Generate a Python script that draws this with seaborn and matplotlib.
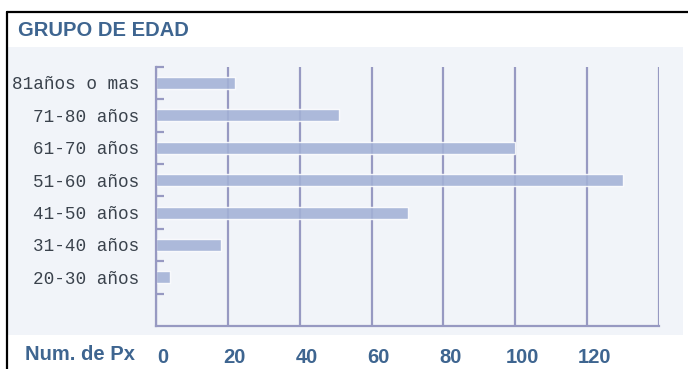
import matplotlib
matplotlib.use("Agg")
import matplotlib.pyplot as plt
import matplotlib.transforms as mtransforms
from matplotlib.patches import Rectangle
from matplotlib.lines import Line2D
from matplotlib.ticker import FixedLocator
import pandas as pd
import seaborn as sns

# Data
age_groups = ["81años o mas", "71-80 años", "61-70 años", "51-60 años",
              "41-50 años", "31-40 años", "20-30 años"]
patients = [22, 51, 100, 130, 70, 18, 4]
x_ticks = [0, 20, 40, 60, 80, 100, 120, 140]
x_tick_labels = ["0", "20", "40", "60", "80", "100", "120", ""]

title_text = "GRUPO DE EDAD"
x_axis_text = "Num. de Px"

# Styling
PANEL = "#f1f4f9"
BAR = "#a3b1d6"
GRID = "#9799c2"
TITLE_BLUE = "#3e6590"
LABEL_GREY = "#3a424c"

sns.set_theme(style="white")
plt.rcParams["font.family"] = ["Liberation Sans", "DejaVu Sans"]

df = pd.DataFrame({"grupo": age_groups, "px": patients})

W, H = 688, 369
fig = plt.figure(figsize=(W / 100, H / 100), dpi=100)
fig.patch.set_facecolor("white")

# light panel behind the chart
fig.add_artist(Rectangle((7 / W, 1 - 335 / H), (683 - 7) / W, (335 - 47) / H,
                         transform=fig.transFigure, facecolor=PANEL,
                         edgecolor="none", zorder=0))
# frame lines on top and left
fig.add_artist(Line2D([7 / W, 1], [1 - 11.5 / H, 1 - 11.5 / H],
                      transform=fig.transFigure, color="black", lw=1.6))
fig.add_artist(Line2D([7 / W, 7 / W], [0, 1 - 11.5 / H],
                      transform=fig.transFigure, color="black", lw=1.6))

left, right = 156 / W, 659 / W
top, bottom = 1 - 66.7 / H, 1 - 326 / H
ax = fig.add_axes([left, bottom, right - left, top - bottom])
ax.set_facecolor("none")

sns.barplot(data=df, x="px", y="grupo", orient="h", color=BAR,
            width=0.37, saturation=1, alpha=0.88, ax=ax, zorder=2)

ax.set_xlim(0, 140)
ax.set_ylim(len(age_groups) + 0.5, -0.5)
ax.set_xlabel("")
ax.set_ylabel("")

# vertical grid lines
ax.set_xticks(x_ticks)
ax.set_xticklabels(x_tick_labels)
ax.grid(axis="x", color=GRID, lw=1.6, zorder=1)
ax.grid(axis="y", visible=False)
ax.set_axisbelow(True)

for side in ["top", "right"]:
    ax.spines[side].set_visible(False)
for side in ["left", "bottom"]:
    ax.spines[side].set_color(GRID)
    ax.spines[side].set_linewidth(1.6)

# small ticks between the age groups
ax.yaxis.set_minor_locator(FixedLocator([i - 0.5 for i in range(len(age_groups) + 1)]))
ax.tick_params(axis="y", which="minor", direction="in", length=6, width=1.6,
               color=GRID, left=True)
ax.tick_params(axis="y", which="major", length=0, pad=12.2,
               labelsize=12.7, labelcolor=LABEL_GREY)
for lbl in ax.get_yticklabels():
    lbl.set_fontfamily(["Liberation Mono", "DejaVu Sans Mono"])

ax.tick_params(axis="x", which="major", length=0, pad=16,
               labelsize=14.5, labelcolor=TITLE_BLUE)
offset = mtransforms.ScaledTranslation(7 / 100, 0, fig.dpi_scale_trans)
for lbl in ax.get_xticklabels():
    lbl.set_fontweight("bold")
    lbl.set_transform(lbl.get_transform() + offset)

fig.text(18 / W, 1 - 30 / H, title_text, fontsize=14.5, fontweight="bold",
         color=TITLE_BLUE, ha="left", va="center")
fig.text(25 / W, 1 - 354 / H, x_axis_text, fontsize=14.5, fontweight="bold",
         color=TITLE_BLUE, ha="left", va="center")

fig.savefig("out.png", dpi=100)
